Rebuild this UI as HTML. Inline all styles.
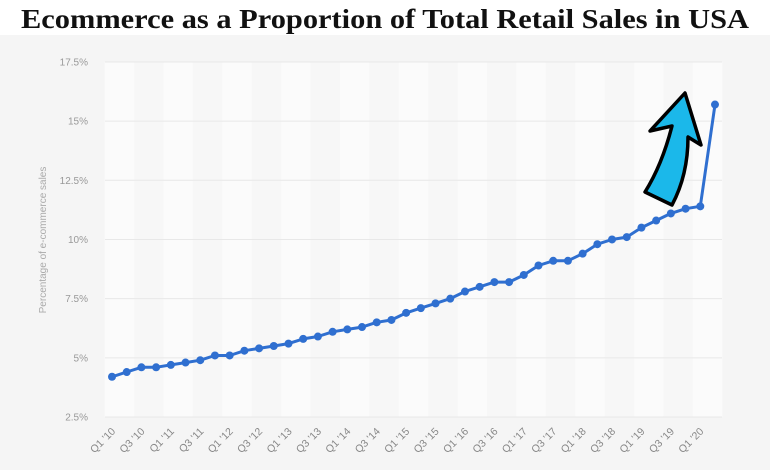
<!DOCTYPE html>
<html><head><meta charset="utf-8"><style>
html,body{margin:0;padding:0;width:770px;height:470px;overflow:hidden;background:#f5f5f5}
</style></head><body>
<svg id="s" width="770" height="470" xmlns="http://www.w3.org/2000/svg" font-family="Liberation Sans, sans-serif">
<rect x="0" y="0" width="770" height="35" fill="#fff"/>
<text x="385" y="28" text-anchor="middle" font-family="Liberation Serif, serif" font-weight="bold" font-size="27" textLength="728" lengthAdjust="spacingAndGlyphs" fill="#111">Ecommerce as a Proportion of Total Retail Sales in USA</text>
<rect x="105" y="62" width="617" height="355" fill="#f7f7f7"/>
<g id="bands"></g>
<g id="grid"></g>
<text transform="translate(46,240) rotate(-90)" text-anchor="middle" font-size="10" fill="#aaa">Percentage of e-commerce sales</text>
<g id="xl" font-size="10.5" fill="#888"></g>
<path id="line" fill="none" stroke="#2f6fd0" stroke-width="3" stroke-linejoin="round"/>
<g id="dots" fill="#2f6fd0"></g>
<path d="M672,205 L645,192 Q662,165 672,126 L650,131 L685,93 L701,145 L688,137 Q688,175 672,205 Z" fill="#1bb8ea" stroke="#000" stroke-width="3.5" stroke-linejoin="round"/>
</svg>
<script>
var NS="http://www.w3.org/2000/svg";
function el(t,a,p){var e=document.createElementNS(NS,t);for(var k in a)e.setAttribute(k,a[k]);document.getElementById(p).appendChild(e);return e;}
var v=[4.2,4.4,4.6,4.6,4.7,4.8,4.9,5.1,5.1,5.3,5.4,5.5,5.6,5.8,5.9,6.1,6.2,6.3,6.5,6.6,6.9,7.1,7.3,7.5,7.8,8.0,8.2,8.2,8.5,8.9,9.1,9.1,9.4,9.8,10.0,10.1,10.5,10.8,11.1,11.3,11.4,15.7];
var dx=14.707;
function X(i){return 112+dx*i;}
function Y(val){return 417-(val-2.5)*23.67;}
for(var i=0;i<42;i+=4){el('rect',{x:X(i)-dx/2,y:62,width:dx*2,height:355,fill:'#fbfbfb'},'bands');}
var labs=['2.5%','5%','7.5%','10%','12.5%','15%','17.5%'];
for(var j=0;j<7;j++){var y=Y(2.5+2.5*j);el('line',{x1:105,x2:722,y1:y,y2:y,stroke:'#e8e8e8','stroke-width':1},'grid');
var t=el('text',{x:88,y:y+3.5,'text-anchor':'end','font-size':'10',fill:'#999'},'grid');t.textContent=labs[j];}
var d='';for(i=0;i<42;i++){d+=(i?'L':'M')+X(i).toFixed(1)+','+Y(v[i]).toFixed(1);el('circle',{cx:X(i),cy:Y(v[i]),r:4},'dots');}
document.getElementById('line').setAttribute('d',d);
for(i=0;i<41;i+=2){var yr=10+Math.floor(i/4);var q=(i%4==0)?'Q1':'Q3';var x=X(i)+4;
var t=el('text',{x:x,y:432,'text-anchor':'end',transform:'rotate(-45 '+x+' 432)'},'xl');t.textContent=q+" '"+(yr<10?'0':'')+yr;}
</script>
</body></html>
